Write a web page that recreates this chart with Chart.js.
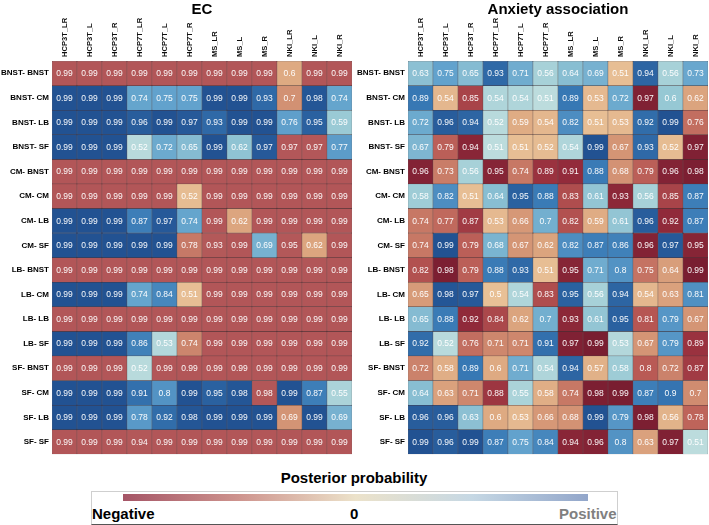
<!DOCTYPE html>
<html>
<head>
<meta charset="utf-8">
<title>Posterior probability heatmaps</title>
<script src="https://cdn.jsdelivr.net/npm/chart.js@4.4.1/dist/chart.umd.min.js"></script>
<style>
  body { margin: 0; background: #fff; font-family: 'Liberation Sans', Arial, sans-serif; }
  #wrap { position: relative; width: 709px; height: 525px; overflow: hidden; }
  canvas { position: absolute; top: 0; }
  .title { position: absolute; top: 1px; width: 300px; text-align: center; font-weight: bold; font-size: 15px; line-height: 15px; color: #000; }
  #cbTitle { position: absolute; left: 204px; width: 300px; top: 470px; text-align: center; font-weight: bold; font-size: 15px; line-height: 15px; }
  #cbBox { position: absolute; left: 91px; top: 491px; width: 525px; height: 32px; border: 1px solid #cfcfcf; border-bottom-color: #555; }
  #cbBar { position: absolute; left: 123px; top: 494px; width: 465px; height: 7px;
    background: linear-gradient(to right, rgb(165,85,102), rgb(206,148,142) 25%, rgb(236,226,202) 50%, rgb(198,216,228) 75%, rgb(146,166,202)); }
  .cbLab { position: absolute; top: 506px; font-weight: bold; font-size: 15px; line-height: 15px; }
</style>
</head>
<body>
<div id="wrap">
  <canvas id="ecChart" width="356" height="462" style="left:0"></canvas>
  <canvas id="anxChart" width="353" height="462" style="left:356px"></canvas>
  <div class="title" style="left:52px">EC</div>
  <div class="title" style="left:408px">Anxiety association</div>
  <div id="cbTitle">Posterior probability</div>
  <div id="cbBox"></div>
  <div id="cbBar"></div>
  <div class="cbLab" style="left:92px;color:#000">Negative</div>
  <div class="cbLab" style="left:350px;color:#000">0</div>
  <div class="cbLab" style="left:559px;color:#808080">Positive</div>
</div>
<script>
// Подписи столбцов и строк
const colLabels = ['HCP3T_LR', 'HCP3T_L', 'HCP3T_R', 'HCP7T_LR', 'HCP7T_L', 'HCP7T_R',
    'MS_LR', 'MS_L', 'MS_R', 'NKI_LR', 'NKI_L', 'NKI_R'];
const rowLabels = ['BNST- BNST', 'BNST- CM', 'BNST- LB', 'BNST- SF', 'CM- BNST', 'CM- CM', 'CM- LB', 'CM- SF',
    'LB- BNST', 'LB- CM', 'LB- LB', 'LB- SF', 'SF- BNST', 'SF- CM', 'SF- LB', 'SF- SF'];

// Апостериорные вероятности: знак "+" = положительный эффект, "-" = отрицательный
const ecValues = [
    [-.99, -.99, -.99, -.99, -.99, -.99, -.99, -.99, -.99, -.6, -.99, -.99],
    [.99, .99, .99, .74, .75, .75, .99, .99, .93, -.7, .98, .74],
    [.99, .99, .99, .96, .99, .97, .93, .99, .99, .76, .95, .59],
    [.99, .99, .99, .52, .72, .65, .99, .62, .97, -.97, -.97, .77],
    [-.99, -.99, -.99, -.99, -.99, -.99, -.99, -.99, -.99, -.99, -.99, -.99],
    [-.99, -.99, -.99, -.99, -.99, -.52, -.99, -.99, -.99, -.99, -.99, -.99],
    [.99, .99, .99, .87, .97, .74, -.99, -.62, -.99, -.99, -.99, -.99],
    [.99, .99, .99, .99, .99, -.78, -.93, -.99, .69, -.95, -.62, -.99],
    [-.99, -.99, -.99, -.99, -.99, -.99, -.99, -.99, -.99, -.99, -.99, -.99],
    [.99, .99, .99, .74, .84, -.51, -.99, -.99, -.99, -.99, -.99, -.99],
    [-.99, -.99, -.99, -.99, -.99, -.99, -.99, -.99, -.99, -.99, -.99, -.99],
    [.99, .99, .99, .86, .53, -.74, -.99, -.99, -.99, -.99, -.99, -.99],
    [-.99, -.99, -.99, .52, -.99, -.99, -.99, -.99, -.99, -.99, -.99, -.99],
    [.99, .99, .99, .91, .8, .99, .95, .98, -.98, .99, .87, .55],
    [.99, .99, .99, .78, .92, .98, .99, .99, .99, -.69, .99, .69],
    [-.99, -.99, -.99, -.94, -.99, -.99, -.99, -.99, -.99, -.99, -.99, -.99]
];

const anxValues = [
    [.63, .75, .65, .93, .71, .56, .64, .69, -.51, .94, .56, .73],
    [.89, -.54, -.85, .54, .54, .51, .89, -.53, .72, -.97, .6, -.62],
    [.72, .96, .94, .52, -.59, -.54, .82, -.51, -.53, .92, .99, -.76],
    [.67, -.79, -.94, .51, -.51, -.52, .54, .99, -.67, .93, -.52, -.97],
    [-.96, -.73, .56, -.95, -.74, -.89, -.91, .88, -.68, -.79, -.96, -.98],
    [.58, .82, -.51, .64, .95, .88, -.83, .61, -.93, .56, -.85, .87],
    [-.74, -.77, -.87, -.53, -.66, .7, -.82, -.59, .61, .96, -.92, .87],
    [-.74, .99, -.79, .68, -.67, -.62, .82, .87, .86, -.96, .97, -.95],
    [-.82, -.98, -.79, .88, .93, -.51, -.95, .71, .8, -.75, -.64, -.99],
    [-.65, .98, .97, -.5, .54, -.83, .95, .56, .94, -.54, -.63, .81],
    [.65, .88, -.92, -.84, -.62, .7, -.93, .61, .95, -.81, .79, -.67],
    [.92, .52, -.76, -.71, -.71, .91, -.97, -.99, .53, -.67, .79, -.89],
    [-.72, -.58, .89, -.6, .71, .54, .94, -.57, .58, -.8, -.72, -.87],
    [.64, -.63, -.71, -.88, .55, -.58, -.74, -.98, -.99, .87, .9, -.7],
    [.96, .96, .63, -.6, -.53, -.66, -.68, .99, .79, -.98, -.56, -.78],
    [.99, .96, .99, .87, .75, .84, -.94, -.96, .8, -.63, -.97, .51]
];

// Цветовые шкалы
const posStops = [[0.5, [192, 222, 222]], [0.6, [150, 200, 212]], [0.75, [98, 162, 205]], [0.89, [55, 120, 180]], [1, [32, 78, 143]]];
const negStopsEC = [[0.5, [232, 192, 150]], [0.6, [222, 170, 130]], [0.7, [210, 145, 115]], [0.8, [195, 115, 100]], [0.9, [180, 90, 90]], [1, [178, 86, 88]]];
const negStopsAnx = [[0.5, [232, 192, 150]], [0.6, [222, 170, 130]], [0.7, [208, 140, 112]], [0.8, [185, 90, 85]], [0.9, [150, 45, 60]], [1, [118, 28, 48]]];

function cellColor(v, negStops) {
    const stops = v < 0 ? negStops : posStops;
    const p = Math.abs(v);
    for (let i = 1; i < stops.length; i++) {
        if (p <= stops[i][0]) {
            const [p0, c0] = stops[i - 1];
            const [p1, c1] = stops[i];
            const t = (p - p0) / (p1 - p0);
            const c = c0.map((x, k) => Math.round(x + (c1[k] - x) * t));
            return `rgb(${c[0]},${c[1]},${c[2]})`;
        }
    }
    const c = stops[stops.length - 1][1];
    return `rgb(${c[0]},${c[1]},${c[2]})`;
}

// Плагин: значения в ячейках и вертикальные подписи столбцов
function makeCellText(values) {
    return {
        id: 'cellText',
        afterDatasetsDraw(chart) {
            const ctx = chart.ctx;
            const xScale = chart.scales.x;
            ctx.save();
            ctx.font = '8.5px "Liberation Sans", Arial, sans-serif';
            ctx.fillStyle = 'rgba(255,255,255,0.96)';
            ctx.textAlign = 'center';
            ctx.textBaseline = 'middle';
            chart.data.datasets.forEach((ds, r) => {
                chart.getDatasetMeta(r).data.forEach((bar, c) => {
                    ctx.fillText(String(Math.abs(values[r][c])), bar.x, (bar.y + bar.base) / 2 + 0.5);
                });
            });

            ctx.font = 'bold 7.6px "Liberation Sans", Arial, sans-serif';
            ctx.fillStyle = '#111';
            ctx.textAlign = 'left';
            colLabels.forEach((label, i) => {
                ctx.save();
                ctx.translate(xScale.getPixelForTick(i) + 0.5, chart.chartArea.top - 4);
                ctx.rotate(-Math.PI / 2);
                ctx.fillText(label, 0, 0);
                ctx.restore();
            });
            ctx.restore();
        }
    };
}

function createHeatmap(canvasId, values, negStops, rightPad) {
    const datasets = rowLabels.map((name, r) => ({
        label: name,
        data: colLabels.map(() => [r - 0.5, r + 0.5]),
        backgroundColor: values[r].map(v => cellColor(v, negStops)),
        borderColor: 'rgba(45,28,32,0.8)',
        borderWidth: 0.5,
        borderSkipped: false,
        grouped: false,
        barPercentage: 1,
        categoryPercentage: 1
    }));

    return new Chart(document.getElementById(canvasId), {
        type: 'bar',
        data: { labels: colLabels, datasets: datasets },
        plugins: [makeCellText(values)],
        options: {
            responsive: false,
            animation: false,
            layout: { padding: { top: 0, left: 0, right: rightPad, bottom: 1 } },
            plugins: {
                legend: { display: false },
                tooltip: { enabled: false },
                title: { display: false }
            },
            scales: {
                x: {
                    position: 'top',
                    grid: { display: false, drawTicks: false },
                    border: { display: false },
                    ticks: { display: false },
                    afterFit: s => { s.height = 61; }
                },
                y: {
                    type: 'linear',
                    min: -0.5,
                    max: 15.5,
                    reverse: true,
                    grid: { display: false, drawTicks: false },
                    border: { display: false },
                    afterBuildTicks: s => { s.ticks = rowLabels.map((_, i) => ({ value: i })); },
                    ticks: {
                        autoSkip: false, padding: 3, color: '#000',
                        font: { size: 8, weight: 'bold' },
                        callback: v => rowLabels[v]
                    },
                    afterFit: s => { s.width = 52; }
                }
            }
        }
    });
}

Chart.defaults.font.family = '"Liberation Sans", Arial, sans-serif';

document.addEventListener('DOMContentLoaded', function() {
    createHeatmap('ecChart', ecValues, negStopsEC, 4);
    createHeatmap('anxChart', anxValues, negStopsAnx, 1);
});
</script>
</body>
</html>
